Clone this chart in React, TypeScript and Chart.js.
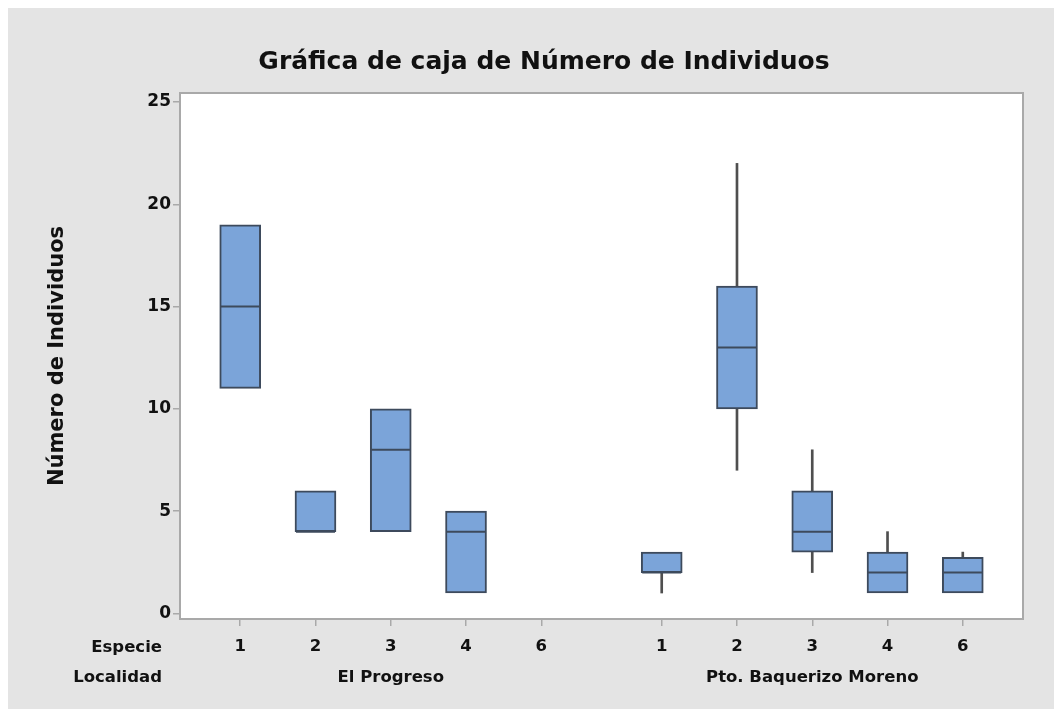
import { useEffect, useRef } from 'react';
import { Chart, registerables } from 'chart.js';

Chart.register(...registerables);

// Box-plot summary for each species within each locality
const especies = ['1', '2', '3', '4', '6', '1', '2', '3', '4', '6'];
const localidadDe = [
  'El Progreso', 'El Progreso', 'El Progreso', 'El Progreso', 'El Progreso',
  'Pto. Baquerizo Moreno', 'Pto. Baquerizo Moreno', 'Pto. Baquerizo Moreno',
  'Pto. Baquerizo Moreno', 'Pto. Baquerizo Moreno',
];
const localidades = ['El Progreso', 'Pto. Baquerizo Moreno'];
const minimo = [11, 4, 4, 1, null, 1, 7, 2, 1, 1];
const cuartil1 = [11, 4, 4, 1, null, 2, 10, 3, 1, 1];
const mediana = [15, 4, 8, 4, null, 2, 13, 4, 2, 2];
const cuartil3 = [19, 6, 10, 5, null, 3, 16, 6, 3, 2.75];
const maximo = [19, 6, 10, 5, null, 3, 22, 8, 4, 3];
const yTicks = [0, 5, 10, 15, 20, 25];

const titulo = 'Gráfica de caja de Número de Individuos';
const tituloY = 'Número de Individuos';

// horizontal placement: one unit per species, wider gap between localities
const GROUP_STEP = 5.6;
const posiciones = especies.map((_, i) => {
  const g = localidades.indexOf(localidadDe[i]);
  const within = localidadDe.slice(0, i).filter((l) => l === localidadDe[i]).length;
  return g * GROUP_STEP + within;
});

const FONT = 'DejaVu Sans';
const TEXT = '#111111';
const BOX_FILL = '#7ba4d9';
const BOX_EDGE = '#3d4a5c';
const WHISKER = '#4f4f4f';
const FRAME = '#a9a9a9';

const idx = especies.map((_, i) => i).filter((i) => cuartil1[i] !== null);
const lowerIdx = idx.filter((i) => (minimo[i] as number) < (cuartil1[i] as number));
const upperIdx = idx.filter((i) => (maximo[i] as number) > (cuartil3[i] as number));

const framePlugin = {
  id: 'frameAndBackground',
  beforeDraw(chart: any) {
    const { ctx, chartArea: a, width, height } = chart;
    ctx.save();
    ctx.fillStyle = '#e4e4e4';
    ctx.fillRect(0, 0, width, height);
    ctx.fillStyle = '#ffffff';
    ctx.fillRect(a.left, a.top, a.right - a.left, a.bottom - a.top);
    ctx.restore();
  },
  afterDraw(chart: any) {
    const { ctx, chartArea: a, scales } = chart;
    ctx.save();
    ctx.strokeStyle = FRAME;
    ctx.lineWidth = 2;
    ctx.strokeRect(a.left, a.top, a.right - a.left, a.bottom - a.top);

    ctx.fillStyle = TEXT;
    ctx.textBaseline = 'middle';

    // chart title
    ctx.font = `bold 25px "${FONT}"`;
    ctx.textAlign = 'center';
    ctx.fillText(titulo, 536, 57);

    // row headers and locality names under the species ticks
    ctx.font = `bold 16.5px "${FONT}"`;
    ctx.textAlign = 'right';
    ctx.fillText('Especie', 154, 643);
    ctx.fillText('Localidad', 154, 673);
    ctx.textAlign = 'center';
    localidades.forEach((loc) => {
      const xs = posiciones.filter((_, i) => localidadDe[i] === loc);
      const mid = (Math.min(...xs) + Math.max(...xs)) / 2;
      ctx.fillText(loc, scales.x.getPixelForValue(mid), 673);
    });
    ctx.restore();
  },
};

export default function App() {
  const ref = useRef<HTMLCanvasElement>(null);

  useEffect(() => {
    if (!ref.current) return;
    const chart = new Chart(ref.current, {
      type: 'bar',
      data: {
        datasets: [
          {
            type: 'scatter',
            data: idx.map((i) => ({ x: posiciones[i], y: mediana[i] })),
            pointStyle: 'line',
            pointRadius: 19.5,
            pointBorderWidth: 2,
            borderColor: BOX_EDGE,
            backgroundColor: BOX_EDGE,
            order: 1,
          } as any,
          {
            type: 'bar',
            data: idx.map((i) => ({ x: posiciones[i], y: [cuartil1[i], cuartil3[i]] })),
            backgroundColor: BOX_FILL,
            borderColor: BOX_EDGE,
            borderWidth: 2,
            borderSkipped: false,
            barThickness: 41,
            grouped: false,
            order: 2,
          } as any,
          {
            type: 'bar',
            data: upperIdx.map((i) => ({ x: posiciones[i], y: [cuartil3[i], maximo[i]] })),
            backgroundColor: WHISKER,
            borderWidth: 0,
            barThickness: 2,
            grouped: false,
            order: 3,
          } as any,
          {
            type: 'bar',
            data: lowerIdx.map((i) => ({ x: posiciones[i], y: [minimo[i], cuartil1[i]] })),
            backgroundColor: WHISKER,
            borderWidth: 0,
            barThickness: 2,
            grouped: false,
            order: 3,
          } as any,
        ],
      },
      options: {
        responsive: false,
        animation: false,
        events: [],
        layout: { padding: { left: 0, right: 39, top: 88, bottom: 0 } },
        plugins: {
          legend: { display: false },
          tooltip: { enabled: false },
          title: { display: false },
        },
        scales: {
          x: {
            type: 'linear',
            min: -0.8,
            max: 10.4,
            offset: false,
            afterBuildTicks: (axis: any) => {
              axis.ticks = posiciones.map((v) => ({ value: v }));
            },
            afterFit: (axis: any) => {
              axis.height = 90;
            },
            ticks: {
              autoSkip: false,
              maxRotation: 0,
              color: TEXT,
              padding: 11,
              font: { family: FONT, weight: 'bold', size: 16.5 },
              callback: (_v: any, i: number) => especies[i],
            },
            grid: {
              offset: false,
              drawOnChartArea: false,
              drawTicks: true,
              tickLength: 7,
              color: FRAME,
              lineWidth: 1.5,
            },
            border: { display: false },
          },
          y: {
            type: 'linear',
            min: -0.27,
            max: 25.44,
            afterBuildTicks: (axis: any) => {
              axis.ticks = yTicks.map((v) => ({ value: v }));
            },
            afterFit: (axis: any) => {
              axis.width = 172;
            },
            ticks: {
              color: TEXT,
              padding: 2,
              font: { family: FONT, weight: 'bold', size: 17 },
            },
            grid: {
              drawOnChartArea: false,
              drawTicks: true,
              tickLength: 7,
              color: FRAME,
              lineWidth: 1.5,
            },
            border: { display: false },
            title: {
              display: true,
              text: tituloY,
              color: TEXT,
              font: { family: FONT, weight: 'bold', size: 21 },
              padding: { top: 37, bottom: 0 },
            },
          },
        },
      } as any,
      plugins: [framePlugin],
    });
    return () => chart.destroy();
  }, []);

  return (
    <div style={{ position: 'relative', top: -3 }}>
      <canvas ref={ref} width={1054} height={704} style={{ display: 'block' }} />
    </div>
  );
}
